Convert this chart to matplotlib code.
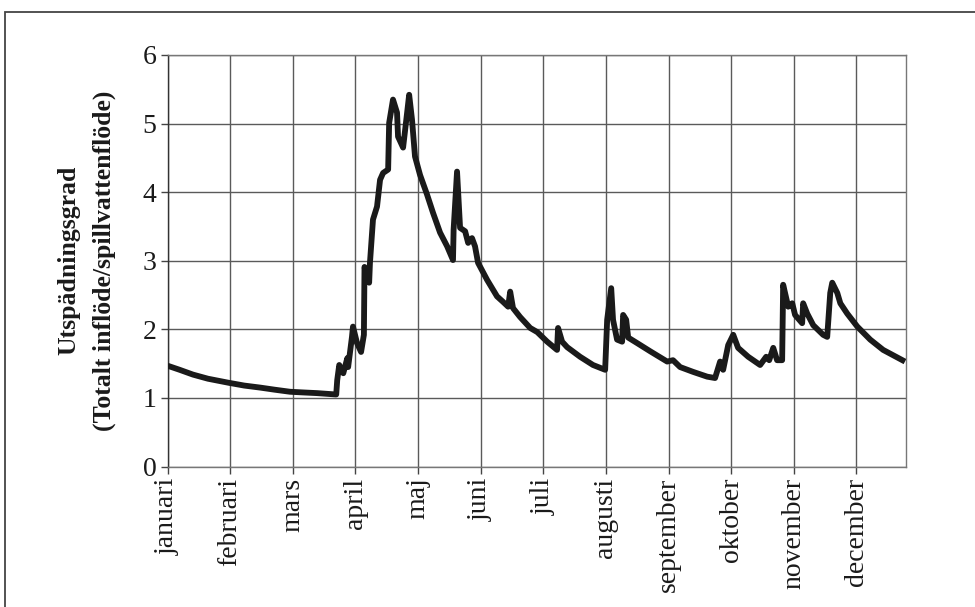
import matplotlib
matplotlib.use("Agg")
import matplotlib.pyplot as plt
from matplotlib.patches import Rectangle

# --- data (day of year, dilution degree) ---
days = [0, 6, 12.6, 20, 30.4, 38, 46, 53, 60.6, 67, 74, 83.5,
        84, 85, 87, 89, 89.4, 91.3, 91.8, 93.8, 95.8, 97.2, 97.5, 99.8, 100.2,
        101.7, 103.7, 105.2, 106.7, 109.2, 109.7, 111.6, 113.6, 114.1, 116.6,
        118.6, 119.6, 121, 122.5, 125, 128.4, 131.4, 134.9, 138.4, 141.3,
        141.6, 143.3, 144.8, 147.3, 148.8, 150.7, 152.2, 153.7, 158.2, 163.1,
        166.1, 168.6, 169.6, 171, 174.5, 179.5, 183, 187.9, 192.8, 193.3,
        195.3, 197.8, 204.2, 210.6, 216.6, 217.6, 219.6, 220.5, 222.5, 225,
        225.5, 227, 228, 232.4, 238.9, 247.3, 250.2, 253.7, 260.1, 267.1,
        271, 273.5, 275, 277.5, 280, 282.4, 287.4, 293.3, 296.3, 297.8,
        299.8, 301.7, 304.2, 304.7, 307.2, 309.2, 310.6, 314.1, 314.6, 316.6,
        319.6, 324.5, 326.5, 328, 329, 331.5, 333, 336.4, 341.4, 347.8,
        354.2, 365]
values = [1.47, 1.41, 1.34, 1.28, 1.22, 1.18, 1.15, 1.12, 1.09, 1.08, 1.07, 1.05,
          1.26, 1.48, 1.36, 1.58, 1.45, 1.89, 2.04, 1.80, 1.67, 1.92, 2.91, 2.68, 2.97,
          3.60, 3.79, 4.18, 4.28, 4.33, 5.01, 5.35, 5.16, 4.81, 4.65,
          5.16, 5.42, 5.06, 4.52, 4.25, 3.97, 3.70, 3.41, 3.21, 3.01,
          3.45, 4.30, 3.48, 3.43, 3.26, 3.33, 3.21, 2.97, 2.72, 2.48,
          2.40, 2.33, 2.55, 2.31, 2.18, 2.02, 1.96, 1.82, 1.70, 2.02,
          1.82, 1.74, 1.60, 1.48, 1.41, 2.14, 2.60, 2.14, 1.85, 1.82,
          2.21, 2.14, 1.88, 1.80, 1.68, 1.53, 1.55, 1.45, 1.38, 1.31,
          1.29, 1.53, 1.41, 1.77, 1.92, 1.73, 1.60, 1.48, 1.60, 1.55,
          1.73, 1.55, 1.55, 2.65, 2.33, 2.38, 2.21, 2.09, 2.38, 2.23,
          2.06, 1.92, 1.89, 2.53, 2.68, 2.53, 2.38, 2.23, 2.04, 1.85,
          1.70, 1.53]

months = ["januari", "februari", "mars", "april", "maj", "juni", "juli",
          "augusti", "september", "oktober", "november", "december"]
month_ticks = [0, 31, 62, 93, 124, 155, 186, 217, 248, 279, 310, 341]
y_ticks = [0, 1, 2, 3, 4, 5, 6]

ylabel = "Utspädningsgrad\n(Totalt inflöde/spillvattenflöde)"

# --- figure ---
plt.rcParams['font.family'] = ['Liberation Serif', 'DejaVu Serif']
fig = plt.figure(figsize=(9.75, 6.07), dpi=100)
ax = fig.add_axes([167.5 / 975, 1 - 466.5 / 607, (906 - 167.5) / 975, (466.5 - 55) / 607])

ax.plot(days, values, color='#1a1a1a', linewidth=4.2, solid_joinstyle='round',
        solid_capstyle='butt', zorder=3)

ax.set_xlim(0, 365.5)
ax.set_ylim(0, 6)
ax.set_xticks(month_ticks)
ax.set_xticklabels(months, rotation=90, fontsize=20)
ax.set_yticks(y_ticks)
ax.set_yticklabels([str(v) for v in y_ticks], fontsize=20)

ax.grid(True, color='#5a5a5a', linewidth=1.0, zorder=1)
for side in ['top', 'right', 'bottom']:
    ax.spines[side].set_color('#777777')
    ax.spines[side].set_linewidth(1.0)
ax.spines['left'].set_color('#333333')
ax.spines['left'].set_linewidth(1.0)
ax.tick_params(axis='both', direction='out', length=5, width=1, color='#444444',
               pad=3, labelcolor='#1a1a1a')

ax.set_ylabel(ylabel, fontsize=18.5, fontweight='bold', color='#1a1a1a',
              linespacing=1.7, labelpad=19)

# outer frame (cut off at the right and bottom edges)
fig.patches.append(Rectangle((5 / 975, -0.2), 1.5, 1.2 - 12 / 607,
                             transform=fig.transFigure, fill=False,
                             edgecolor='#444444', linewidth=1.3))

fig.savefig("out.png", dpi=100)
